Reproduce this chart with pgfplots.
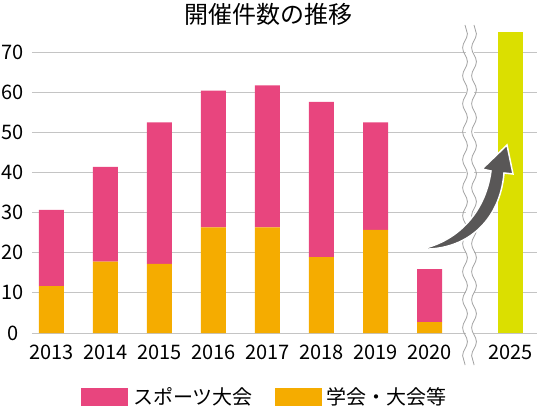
\documentclass[border=0pt]{standalone}
\usepackage{fontspec}
\setmainfont{Noto Sans CJK JP}
\usepackage{pgfplots}
\pgfplotsset{compat=1.18}
\usetikzlibrary{decorations.pathmorphing}
\definecolor{cpink}{HTML}{E8457E}
\definecolor{corange}{HTML}{F5AC00}
\definecolor{clime}{HTML}{DBDF00}
\definecolor{carrow}{HTML}{595757}
\definecolor{cgrid}{HTML}{C4C4C4}
\definecolor{cbreak}{HTML}{A0A0A0}
\begin{document}
\begin{tikzpicture}
\path[use as bounding box] (0,0) rectangle (537pt,412pt);
\begin{axis}[
  at={(32pt,79pt)}, anchor=south west,
  scale only axis, width=505pt, height=321.14pt,
  xmin=-0.36, xmax=8.99, ymin=0, ymax=80,
  ybar stacked, bar width=25pt,
  axis line style={draw=none},
  ymajorgrids, grid style={color=cgrid, line width=1pt},
  ytick={0,10,20,30,40,50,60,70},
  xtick={0,1,2,3,4,5,6,7,8.5},
  xticklabels={2013,2014,2015,2016,2017,2018,2019,2020,2025},
  major tick length=0pt,
  tick label style={font=\fontsize{20}{24}\selectfont},
  /pgf/number format/assume math mode=true,
  xticklabel style={anchor=center, yshift=-19.5pt},
  yticklabel style={anchor=center, xshift=-19pt},
  legend columns=2,
  legend image code/.code={\fill[#1] (0pt,-9pt) rectangle (47pt,9pt);},
  legend style={at={(0.097,-0.1993)}, anchor=west, draw=none, fill=none,
    inner sep=0pt, font=\fontsize{20}{24}\selectfont,
    nodes={inner sep=0pt, anchor=west},
    /tikz/every odd column/.append style={column sep=5pt},
    /tikz/every even column/.append style={column sep=22pt}},
]
\addlegendimage{fill=cpink, draw=none}
\addlegendimage{fill=corange, draw=none}
\legend{スポーツ大会,学会・大会等}
\addplot[fill=corange, draw=none] coordinates {(0,11.7) (1,17.8) (2,17.2) (3,26.3) (4,26.3) (5,18.9) (6,25.7) (7,2.7) (8.5,0)};
\addplot[fill=cpink, draw=none] coordinates {(0,19.0) (1,23.6) (2,35.3) (3,34.1) (4,35.4) (5,38.7) (6,26.8) (7,13.2) (8.5,0)};
\addplot[fill=clime, draw=none] coordinates {(0,0) (1,0) (2,0) (3,0) (4,0) (5,0) (6,0) (7,0) (8.5,75)};
\end{axis}
\begin{scope}[x=1pt, y=-1pt, yshift=412pt]
  \node[font=\fontsize{24}{28}\selectfont] at (268,14) {開催件数の推移};
  % axis break
  \fill[white] (465.5,25) rectangle (473.5,366);
  \draw[cbreak, line width=0.8pt, decorate, decoration={snake, segment length=28pt, amplitude=2.4pt}] (465,25) -- (465,365);
  \draw[cbreak, line width=0.8pt, decorate, decoration={snake, segment length=28pt, amplitude=2.4pt}] (474,25) -- (474,365);
  % arrow
  \filldraw[fill=carrow, draw=white, line width=1.5pt, line join=miter]
    (421,249) .. controls (455,242) and (485,215) .. (491,171)
    -- (482,169) -- (507,145) -- (513,174) -- (504,173)
    .. controls (500,222) and (465,251) .. cycle;
\end{scope}
\end{tikzpicture}
\end{document}
